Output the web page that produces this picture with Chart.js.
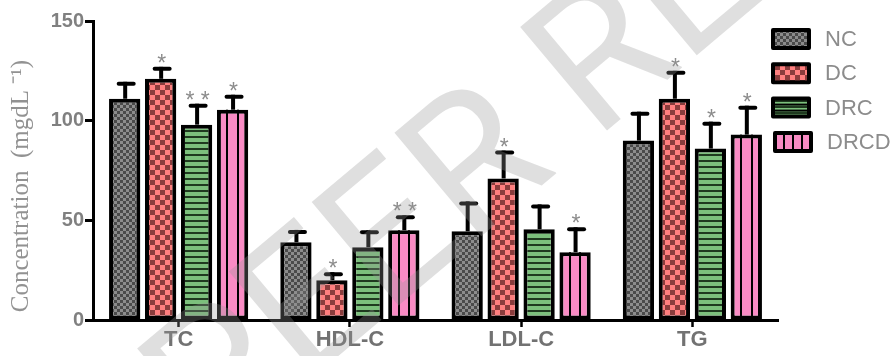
<!DOCTYPE html>
<html>
<head>
<meta charset="utf-8">
<script src="https://cdn.jsdelivr.net/npm/chart.js@4.4.1/dist/chart.umd.min.js"></script>
<style>
  html, body { margin: 0; padding: 0; background: #fff; }
  #wrap { width: 896px; height: 356px; position: relative; }
</style>
</head>
<body>
<div id="wrap"><canvas id="c" width="896" height="356"></canvas></div>
<script>
// Serum lipid profile per group (mean and SD, mg/dL)
const categories = ['TC', 'HDL-C', 'LDL-C', 'TG'];
const groupNames = ['NC', 'DC', 'DRC', 'DRCD'];

const ncMean   = [111, 39, 44.5, 90];
const ncSd     = [8.5, 6.2, 15, 14.5];
const dcMean   = [121, 20, 71, 111];
const dcSd     = [6, 4, 14, 14];
const drcMean  = [98, 36.5, 45.5, 86];
const drcSd    = [10.5, 8.5, 12.5, 13.5];
const drcdMean = [105.5, 45, 34, 93];
const drcdSd   = [7.5, 7.5, 12.5, 14.5];

// significance marks above each bar
const ncSig   = ['', '', '', ''];
const dcSig   = ['*', '*', '*', '*'];
const drcSig  = ['**', '', '', '*'];
const drcdSig = ['*', '**', '*', '*'];

const yTicks = [0, 50, 100, 150];

// ---- fill patterns ----
function checker(c1, c2, cell) {
  const cv = document.createElement('canvas');
  cv.width = cell * 2; cv.height = cell * 2;
  const g = cv.getContext('2d');
  g.fillStyle = c1; g.fillRect(0, 0, cell * 2, cell * 2);
  g.fillStyle = c2;
  g.fillRect(0, 0, cell, cell);
  g.fillRect(cell, cell, cell, cell);
  return g.createPattern(cv, 'repeat');
}
function hStripes(bg, line, gap, lw) {
  const cv = document.createElement('canvas');
  cv.width = 4; cv.height = gap + lw;
  const g = cv.getContext('2d');
  g.fillStyle = bg; g.fillRect(0, 0, 4, gap + lw);
  g.fillStyle = line; g.fillRect(0, gap, 4, lw);
  return g.createPattern(cv, 'repeat');
}
const fillNC = checker('#8c8c8c', '#4a4a4a', 3);
const fillDC = checker('#ff7f7f', '#8a3c3c', 5);
const fillDRC = hStripes('#7cc07c', '#1f3a1f', 4, 2);
const pinkDRCD = '#f98bc4';

const means = [ncMean, dcMean, drcMean, drcdMean];
const sds = [ncSd, dcSd, drcSd, drcdSd];
const sigs = [ncSig, dcSig, drcSig, drcdSig];
const fills = [fillNC, fillDC, fillDRC, pinkDRCD];

const datasets = groupNames.map((name, i) => ({
  label: name,
  data: means[i],
  sd: sds[i],
  sig: sigs[i],
  backgroundColor: fills[i],
  borderColor: '#000',
  borderWidth: 4,
  borderSkipped: false,
  categoryPercentage: 0.84,
  barPercentage: 0.87
}));

// vertical dividers inside DRCD bars, error bars and significance marks
const barDecor = {
  id: 'barDecor',
  afterDatasetsDraw(chart) {
    const c = chart.ctx;
    const y = chart.scales.y;
    c.save();
    const dm = chart.getDatasetMeta(3);
    dm.data.forEach(el => {
      const p = el.getProps(['x', 'y', 'base', 'width'], true);
      c.fillStyle = '#000';
      [-1, 1].forEach(s => {
        const lx = p.x + s * p.width / 6;
        c.fillRect(Math.round(lx - 1), p.y, 2, p.base - p.y);
      });
    });
    chart.data.datasets.forEach((ds, di) => {
      const meta = chart.getDatasetMeta(di);
      meta.data.forEach((el, i) => {
        const p = el.getProps(['x', 'y'], true);
        const top = y.getPixelForValue(ds.data[i] + ds.sd[i]);
        c.fillStyle = '#000';
        c.fillRect(p.x - 1.5, top, 4, p.y - top);
        c.beginPath();
        c.lineCap = 'round';
        c.lineWidth = 4;
        c.strokeStyle = '#000';
        c.moveTo(p.x - 6, top + 2);
        c.lineTo(p.x + 9, top + 2);
        c.stroke();
        if (ds.sig[i]) {
          c.fillStyle = '#8c8c8c';
          c.font = '23px "Liberation Sans", Arial, sans-serif';
          c.textAlign = 'center';
          c.textBaseline = 'alphabetic';
          c.fillText(ds.sig[i].split('').join(' '), p.x + 1, top + 4);
        }
      });
    });
    c.restore();
  }
};

// legend swatches on the right
const sideLegend = {
  id: 'sideLegend',
  afterDraw(chart) {
    const c = chart.ctx;
    c.save();
    chart.data.datasets.forEach((ds, i) => {
      const cy = 39 + i * 34.3;
      const bx = 773 + (i === 3 ? 2 : 0), bw = 36, bh = 18, by = cy - bh / 2;
      c.fillStyle = ds.backgroundColor;
      c.fillRect(bx, by, bw, bh);
      c.fillStyle = '#000';
      if (i === 2) {
        c.fillRect(bx, by + bh / 3 - 1, bw, 2);
        c.fillRect(bx, by + 2 * bh / 3 - 1, bw, 2);
      }
      if (i === 3) {
        for (let k = 1; k < 4; k++) c.fillRect(bx + k * bw / 4 - 1, by, 2, bh);
      }
      c.lineWidth = 4;
      c.strokeStyle = '#000';
      c.lineJoin = 'round';
      c.strokeRect(bx, by, bw, bh);
      c.fillStyle = '#8c8c8c';
      c.font = '22px "Liberation Sans", Arial, sans-serif';
      c.textAlign = 'left';
      c.textBaseline = 'middle';
      c.fillText(ds.label, 825 + (i === 3 ? 2 : 0), cy + 1);
    });
    c.restore();
  }
};

// faint diagonal watermark text laid over the plot
const watermark = {
  id: 'watermark',
  afterDraw(chart) {
    const c = chart.ctx;
    c.save();
    c.translate(212, 462);
    c.rotate(-40 * Math.PI / 180);
    c.fillStyle = 'rgba(150,150,150,0.3)';
    c.font = '400 190px Roboto, sans-serif';
    c.textBaseline = 'alphabetic';
    c.fillText('PEER REVIEW', 0, 0);
    c.restore();
  }
};

new Chart(document.getElementById('c'), {
  type: 'bar',
  data: { labels: categories, datasets },
  options: {
    responsive: false,
    animation: false,
    devicePixelRatio: 1,
    layout: { padding: { top: 21, right: 118, bottom: 0, left: 0 } },
    plugins: { legend: { display: false }, tooltip: { enabled: false } },
    scales: {
      x: {
        offset: true,
        grid: { display: true, drawOnChartArea: false, offset: false, color: '#000', tickColor: '#000', tickWidth: 2.5, tickLength: 7 },
        border: { display: true, color: '#000', width: 3 },
        ticks: { color: '#727272', font: { family: '"Liberation Sans", Arial, sans-serif', size: 22, weight: 'bold' }, padding: 0 },
        afterFit(s) { s.height = 36; }
      },
      y: {
        min: 0, max: 150,
        afterBuildTicks(s) { s.ticks = yTicks.map(v => ({ value: v })); },
        grid: { display: true, drawOnChartArea: false, color: '#000', tickColor: '#000', tickWidth: 3, tickLength: 8 },
        border: { display: true, color: '#000', width: 3 },
        ticks: { color: '#808080', font: { family: '"Liberation Sans", Arial, sans-serif', size: 20, weight: 'bold' }, padding: 1 },
        title: {
          display: true,
          text: 'Concentration  (mgdL ⁻¹)     ',
          color: '#929292',
          font: { family: '"Liberation Serif", "Times New Roman", serif', size: 25, weight: 'normal' },
          padding: { top: 6, bottom: 0 }
        },
        afterFit(s) { s.width = 93; }
      }
    }
  },
  plugins: [barDecor, sideLegend, watermark]
});
</script>
</body>
</html>
